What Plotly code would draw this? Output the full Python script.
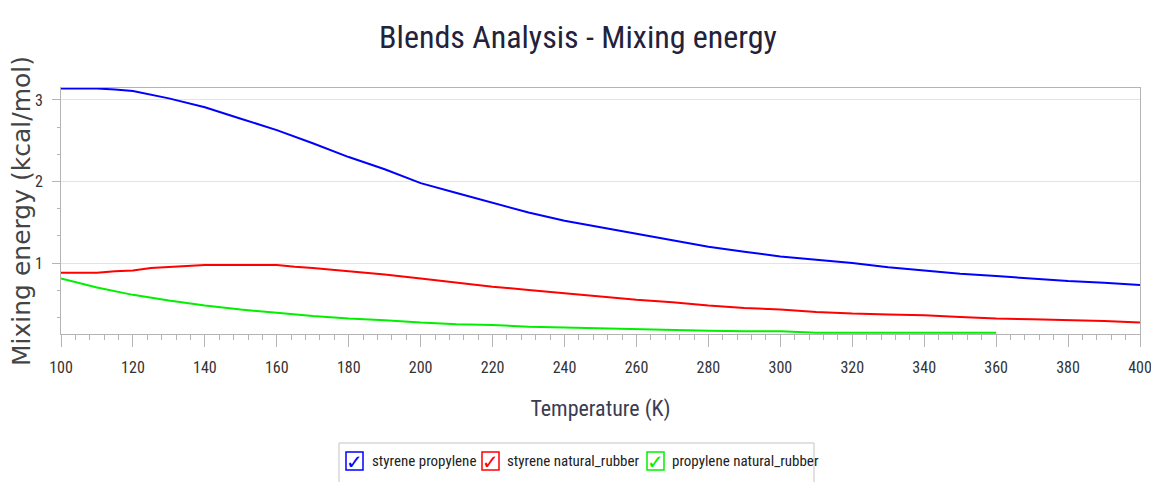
import plotly.graph_objects as go

# ---- data ----
temp_sp = [100, 110, 115, 120, 130, 140, 150, 160, 170, 180, 190, 200, 210, 220, 230, 240,
           250, 260, 270, 280, 290, 300, 310, 320, 330, 340, 350, 360, 370, 380, 390, 400]
styrene_propylene = [3.14, 3.14, 3.13, 3.11, 3.02, 2.91, 2.77, 2.63, 2.47, 2.30, 2.15, 1.98,
                     1.86, 1.74, 1.62, 1.52, 1.44, 1.36, 1.28, 1.20, 1.14, 1.08, 1.04, 1.00,
                     0.95, 0.91, 0.87, 0.84, 0.81, 0.78, 0.76, 0.73]

temp_snr = [100, 110, 115, 120, 125, 130, 135, 140, 150, 160, 165, 170, 180, 190, 200, 210,
            220, 230, 240, 250, 260, 270, 280, 290, 300, 310, 320, 330, 340, 350, 360, 370,
            380, 390, 400]
styrene_natural_rubber = [0.88, 0.88, 0.90, 0.91, 0.94, 0.95, 0.96, 0.975, 0.975, 0.975, 0.955,
                          0.94, 0.90, 0.86, 0.81, 0.76, 0.71, 0.67, 0.63, 0.59, 0.55, 0.52,
                          0.48, 0.45, 0.43, 0.40, 0.38, 0.37, 0.36, 0.34, 0.32, 0.31, 0.30,
                          0.29, 0.27]

temp_pnr = [100, 110, 120, 130, 140, 150, 160, 170, 180, 190, 200, 210, 220, 230, 240, 250,
            260, 270, 280, 290, 300, 305, 310, 320, 340, 360]
propylene_natural_rubber = [0.81, 0.70, 0.61, 0.54, 0.48, 0.43, 0.39, 0.35, 0.32, 0.30, 0.27,
                            0.25, 0.24, 0.22, 0.21, 0.20, 0.19, 0.175, 0.17, 0.165, 0.165,
                            0.155, 0.145, 0.145, 0.145, 0.145]

series_names = ["styrene propylene", "styrene natural_rubber", "propylene natural_rubber"]
series_colors = ["#0000ff", "#ff0000", "#00f000"]

x_ticks = list(range(100, 401, 20))
y_ticks = [1, 2, 3]

# ---- layout geometry (pixels) ----
W, H = 1151, 482
L, R, T, B = 61, 1140, 88, 334

def px(xp):
    return (xp - L) / (R - L)

def py(yp):
    return (B - yp) / (B - T)

NARROW = "Roboto Condensed, Liberation Sans Narrow, DejaVu Sans Condensed, sans-serif"

fig = go.Figure()
for xs, ys, name, col in zip([temp_sp, temp_snr, temp_pnr],
                             [styrene_propylene, styrene_natural_rubber, propylene_natural_rubber],
                             series_names, series_colors):
    fig.add_trace(go.Scatter(x=xs, y=ys, mode="lines", name=name,
                             line=dict(color=col, width=2), showlegend=False))

fig.update_layout(
    width=W, height=H,
    margin=dict(l=L, r=W - R, t=T, b=H - B, autoexpand=False),
    paper_bgcolor="white", plot_bgcolor="white",
    title=dict(text="Blends Analysis - Mixing energy", x=578 / W, xanchor="center",
               y=1 - 37 / H, yanchor="middle", yref="container",
               font=dict(family=NARROW, size=32, color="#22223a")),
    xaxis=dict(range=[100, 400], tickvals=x_ticks, ticktext=[str(v) for v in x_ticks],
               showgrid=False, zeroline=False,
               showline=True, linecolor="#b4b4b4", linewidth=1, mirror=True,
               ticks="outside", ticklen=12, tickcolor="#b4b4b4", tickwidth=1,
               minor=dict(dtick=4, tick0=100, ticks="outside", ticklen=5, tickcolor="#b4b4b4",
                          showgrid=False),
               tickfont=dict(family=NARROW, size=16, color="#333333"),
               ticklabelstandoff=7, ticklabeloverflow="allow",
               title=dict(text="Temperature (K)", standoff=24,
                          font=dict(family=NARROW, size=22, color="#3c3c50"))),
    yaxis=dict(range=[0.13, 3.147], tickvals=y_ticks, ticktext=[str(v) for v in y_ticks],
               showgrid=True, gridcolor="#e3e3e3", gridwidth=1, zeroline=False,
               showline=True, linecolor="#b4b4b4", linewidth=1, mirror=True,
               ticks="outside", ticklen=8, tickcolor="#b4b4b4", tickwidth=1,
               minor=dict(dtick=1 / 3, tick0=0, ticks="outside", ticklen=3, tickcolor="#b4b4b4",
                          showgrid=False),
               tickfont=dict(family=NARROW, size=16, color="#333333"),
               ticklabelstandoff=6),
)

annotations = [dict(xref="paper", yref="paper", x=px(21), y=py(211),
                    text="Mixing energy (kcal/mol)", textangle=-90, showarrow=False,
                    xanchor="center", yanchor="middle",
                    font=dict(family="DejaVu Sans, Verdana, sans-serif", size=25,
                              color="#444444"))]

# ---- custom legend with check boxes ----
shapes = [dict(type="rect", xref="paper", yref="paper",
               x0=px(339), x1=px(814), y0=py(495), y1=py(443),
               line=dict(color="#c4c4c4", width=1), fillcolor="white", layer="below")]
box_x = [346, 482, 647]
text_x = [370, 505, 670]
for bx, tx, name, col in zip(box_x, text_x, series_names, series_colors):
    shapes.append(dict(type="rect", xref="paper", yref="paper",
                       x0=px(bx), x1=px(bx + 17), y0=py(470), y1=py(452),
                       line=dict(color=col, width=1.5), fillcolor="white"))
    annotations.append(dict(xref="paper", yref="paper", x=px(bx + 8.5), y=py(461.5),
                            text="✓", showarrow=False, xanchor="center", yanchor="middle",
                            font=dict(family="DejaVu Sans, sans-serif", size=20, color=col)))
    annotations.append(dict(xref="paper", yref="paper", x=px(tx), y=py(461),
                            text=name, showarrow=False, xanchor="left", yanchor="middle",
                            font=dict(family=NARROW, size=15, color="#222222")))

fig.update_layout(shapes=shapes, annotations=annotations)

fig.write_html("out.html", config={"displayModeBar": False},
               post_script="document.body.style.margin='0';")
